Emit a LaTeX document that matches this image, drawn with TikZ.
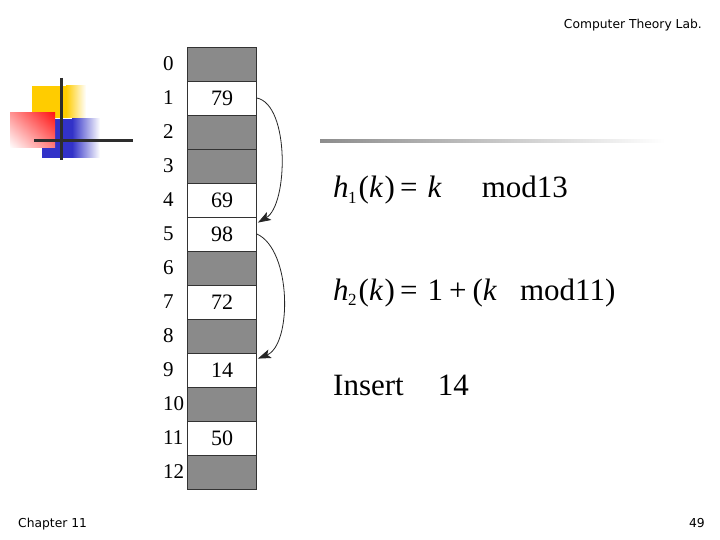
\documentclass[tikz,border=0pt]{standalone}
\usepackage{fontspec}
\setmainfont{Liberation Serif}
\newfontfamily\tah{DejaVu Sans}
\usetikzlibrary{calc,arrows.meta,shadings}
\definecolor{cellgray}{RGB}{138,138,138}
\definecolor{lyel}{RGB}{255,204,0}
\definecolor{lred}{RGB}{255,20,20}
\definecolor{lblue}{RGB}{50,50,200}
\definecolor{dline}{RGB}{45,45,45}
\tikzset{
  cell/.style={draw=black!80, line width=0.8pt, minimum width=69pt, minimum height=34pt, inner sep=0pt, font=\fontsize{22}{22}\selectfont},
  full/.style={cell, fill=white},
  empty/.style={cell, fill=cellgray},
  idx/.style={anchor=west, inner sep=0pt, font=\fontsize{21}{21}\selectfont},
  probe/.style={-{Stealth[length=13pt,width=9pt,inset=3pt]}, line width=0.8pt, black!85},
  formula/.style={anchor=base west, inner sep=0pt, font=\fontsize{31}{31}\selectfont},
  small/.style={inner sep=0pt, font=\tah\fontsize{12.3}{13}\selectfont}
}
\newcommand{\sbs}[1]{\raisebox{-0.4ex}{\fontsize{17}{17}\selectfont #1}}
\begin{document}
\begin{tikzpicture}[x=1pt,y=-1pt]
\useasboundingbox (0,0) rectangle (720,540);
\fill[white] (0,0) rectangle (720,540);
% logo
\fill[lyel] (32,86) rectangle (66,118);
\shade[left color=lyel, right color=white] (66,86) rectangle (86,118);
\fill[lblue] (42,119) rectangle (72,158);
\shade[left color=lblue, right color=white] (72,119) rectangle (100,158);
\shade[upper right=lred, upper left=lred!45, lower right=lred!55, lower left=white] (10,113) rectangle (55,148);
\draw[dline, line width=3pt] (61,78) -- (61,160);
\draw[dline, line width=3pt] (34,141) -- (133,141);
% top rule
\shade[left color=black!45, right color=white] (320,139.7) rectangle (665,142.3);
% header / footer
\node[small, anchor=base east] (hdr) at (702,29) {Computer Theory Lab.};
\node[small, anchor=base west] (ftr) at (18,527) {Chapter 11};
\node[small, anchor=base east] (pg) at (705,527) {49};
% table
\foreach \i/\s/\v in {0/empty/,1/full/79,2/empty/,3/empty/,4/full/69,5/full/98,6/empty/,7/full/72,8/empty/,9/full/14,10/empty/,11/full/50,12/empty/}{
  \node[\s] (r\i) at (222,{64+34*\i}) {\v};
  \node[idx] (l\i) at (163,{64+34*\i}) {\i};
}
% probes
\draw[probe] (r1.east) .. controls (290,105) and (288,205) .. ([xshift=1pt,yshift=-6pt]r5.north east);
\draw[probe] (r5.east) .. controls (292,250) and (292,345) .. ([xshift=1pt,yshift=-6pt]r9.north east);
% formulas
\node[formula] (f1) at (333,198) {\textit{h}\kern-0.5pt\sbs{1}\kern2pt(\textit{k}\kern1.5pt)\kern5pt=\kern10pt\textit{k}\hspace{40pt}mod13};
\node[formula] (f2) at (333,300) {\textit{h}\kern-0.5pt\sbs{2}\kern2pt(\textit{k}\kern1.5pt)\kern5pt=\kern10pt1\kern6pt+\kern6pt(\textit{k}\hspace{23pt}mod11)};
\node[formula] (f3) at (333,395) {Insert\hspace{34pt}14};
\end{tikzpicture}
\end{document}
